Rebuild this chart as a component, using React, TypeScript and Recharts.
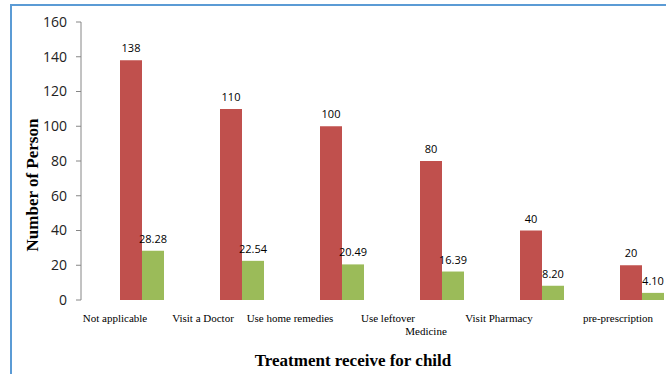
import { BarChart, Bar, XAxis, YAxis, LabelList } from 'recharts';

const categories = [
  'Not applicable',
  'Visit a Doctor',
  'Use home remedies',
  'Use leftover\nMedicine',
  'Visit Pharmacy',
  'pre-prescription',
];
const persons = [138, 110, 100, 80, 40, 20];
const percents = [28.28, 22.54, 20.49, 16.39, 8.2, 4.1];
const yTicks = [0, 20, 40, 60, 80, 100, 120, 140, 160];

// label offsets (the labels in the original sit left of their bars)
const tickShift = [-27, -39, -52, -54, -43, -24];
const tickShift2 = [0, 0, 0, -16, 0, 0];

const COLORS = {
  red: '#C0504D',
  green: '#9BBB59',
  axis: '#868686',
  border: '#5B9BD5',
};

const data = categories.map((name, i) => ({
  name,
  persons: persons[i],
  percent: percents[i],
}));

const serif = '"Liberation Serif", "Times New Roman", serif';
const sans = '"Open Sans", "Liberation Sans", sans-serif';

function CategoryTick(props: any) {
  const { x, y, payload, index } = props;
  const lines = String(payload.value).split('\n');
  return (
    <g>
      {lines.map((line, li) => (
        <text
          key={li}
          x={x + (li === 0 ? tickShift[index] : tickShift2[index])}
          y={y + 14 + li * 13}
          textAnchor="middle"
          fontFamily={serif}
          fontSize={11}
          fill="#000"
        >
          {line}
        </text>
      ))}
    </g>
  );
}

export default function App() {
  return (
    <div
      style={{
        position: 'absolute',
        left: 0,
        top: 0,
        width: 666,
        height: 374,
        overflow: 'hidden',
        background: '#fff',
      }}
    >
      <div
        style={{
          position: 'absolute',
          left: 10,
          top: 4,
          width: 720,
          height: 420,
          border: `2px solid ${COLORS.border}`,
        }}
      />
      <div style={{ position: 'absolute', left: 0, top: 0 }}>
        <BarChart
          width={692}
          height={374}
          data={data}
          margin={{ top: 22, right: 0, left: 0, bottom: 0 }}
          barCategoryGap="28%"
          barGap={0}
        >
          <XAxis
            dataKey="name"
            axisLine={false}
            tickLine={false}
            height={74}
            padding={{ left: 11, right: 0 }}
            interval={0}
            tick={<CategoryTick />}
          />
          <YAxis
            width={81}
            domain={[0, 160]}
            ticks={yTicks}
            stroke={COLORS.axis}
            tickSize={5}
            tickMargin={9}
            tick={{ fill: '#222', fontSize: 14, fontFamily: sans }}
          />
          <Bar dataKey="persons" fill={COLORS.red} isAnimationActive={false}>
            <LabelList
              dataKey="persons"
              position="top"
              offset={8}
              fill="#000"
              fontSize={11}
              fontFamily={sans}
            />
          </Bar>
          <Bar dataKey="percent" fill={COLORS.green} isAnimationActive={false}>
            <LabelList
              dataKey="percent"
              position="top"
              offset={8}
              fill="#000"
              fontSize={11}
              fontFamily={sans}
              formatter={(v: any) => Number(v).toFixed(2)}
            />
          </Bar>
        </BarChart>
      </div>
      <svg
        width={666}
        height={374}
        style={{ position: 'absolute', left: 0, top: 0, pointerEvents: 'none' }}
      >
        <text
          x={38}
          y={185}
          transform="rotate(-90 38 185)"
          textAnchor="middle"
          fontFamily={serif}
          fontWeight="bold"
          fontSize={17}
          fill="#000"
        >
          Number of Person
        </text>
        <text
          x={353}
          y={366}
          textAnchor="middle"
          fontFamily={serif}
          fontWeight="bold"
          fontSize={17}
          fill="#000"
        >
          Treatment receive for child
        </text>
      </svg>
    </div>
  );
}
